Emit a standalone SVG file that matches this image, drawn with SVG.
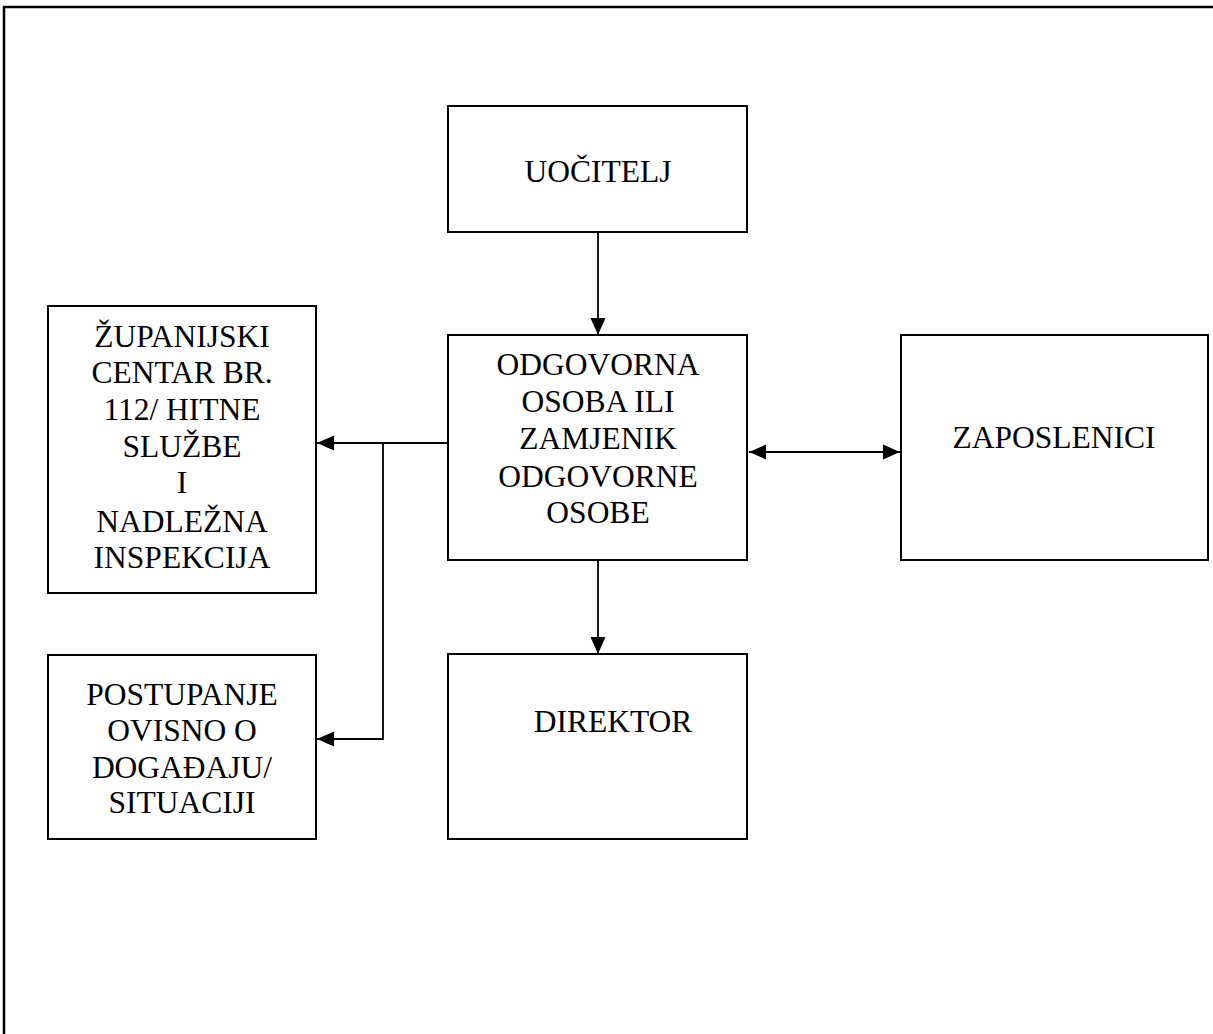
<svg xmlns="http://www.w3.org/2000/svg" width="1213" height="1034" viewBox="0 0 1213 1034">
  <style>
    .box { fill: #ffffff; stroke: #000000; stroke-width: 2; }
    .lbl { font-family: "Liberation Serif", "Times New Roman", serif; font-size: 31.5px; fill: #000000; text-anchor: middle; }
    .con { fill: none; stroke: #000000; stroke-width: 1.8; }
    .frame { fill: none; stroke: #000000; stroke-width: 2.5; }
  </style>
  <defs>
    <marker id="arr" markerUnits="userSpaceOnUse" markerWidth="17" markerHeight="16" viewBox="0 0 17 16" refX="17" refY="8" orient="auto">
      <path d="M0,0.5 L17,8 L0,15.5 Z" fill="#000000"/>
    </marker>
    <marker id="arrStart" markerUnits="userSpaceOnUse" markerWidth="17" markerHeight="16" viewBox="0 0 17 16" refX="0" refY="8" orient="auto">
      <path d="M17,0.5 L0,8 L17,15.5 Z" fill="#000000"/>
    </marker>
  </defs>
  <rect width="1213" height="1034" fill="#ffffff"/>
  <g id="frame">
    <path class="frame" d="M4,1034 L4,7 L1213,7"/>
  </g>
  <g id="connectors">
    <line class="con" x1="598" y1="232" x2="598" y2="335" marker-end="url(#arr)"/>
    <line class="con" x1="598" y1="560" x2="598" y2="654" marker-end="url(#arr)"/>
    <line class="con" x1="749" y1="452" x2="900" y2="452" marker-start="url(#arrStart)" marker-end="url(#arr)"/>
    <line class="con" x1="448" y1="443" x2="317" y2="443" marker-end="url(#arr)"/>
    <polyline class="con" points="383,443 383,739 317,739" marker-end="url(#arr)"/>
  </g>
  <g id="uocitelj">
    <rect class="box" x="448" y="106" width="299" height="126"/>
    <text class="lbl" x="598" y="182">UOČITELJ</text>
  </g>
  <g id="odgovorna">
    <rect class="box" x="448" y="335" width="299" height="225"/>
    <text class="lbl" x="598" y="375">ODGOVORNA</text>
    <text class="lbl" x="598" y="412">OSOBA ILI</text>
    <text class="lbl" x="598" y="449">ZAMJENIK</text>
    <text class="lbl" x="598" y="487">ODGOVORNE</text>
    <text class="lbl" x="598" y="523">OSOBE</text>
  </g>
  <g id="zaposlenici">
    <rect class="box" x="901" y="335" width="307" height="225"/>
    <text class="lbl" x="1054" y="448">ZAPOSLENICI</text>
  </g>
  <g id="zupanijski">
    <rect class="box" x="48" y="306" width="268" height="287"/>
    <text class="lbl" x="182" y="347">ŽUPANIJSKI</text>
    <text class="lbl" x="182" y="383">CENTAR BR.</text>
    <text class="lbl" x="182" y="420">112/ HITNE</text>
    <text class="lbl" x="182" y="457">SLUŽBE</text>
    <text class="lbl" x="182" y="493">I</text>
    <text class="lbl" x="182" y="532">NADLEŽNA</text>
    <text class="lbl" x="182" y="568">INSPEKCIJA</text>
  </g>
  <g id="postupanje">
    <rect class="box" x="48" y="655" width="268" height="184"/>
    <text class="lbl" x="182" y="705">POSTUPANJE</text>
    <text class="lbl" x="182" y="741">OVISNO O</text>
    <text class="lbl" x="182" y="778">DOGAĐAJU/</text>
    <text class="lbl" x="182" y="813">SITUACIJI</text>
  </g>
  <g id="direktor">
    <rect class="box" x="448" y="654" width="299" height="185"/>
    <text class="lbl" x="613" y="732">DIREKTOR</text>
  </g>
</svg>
